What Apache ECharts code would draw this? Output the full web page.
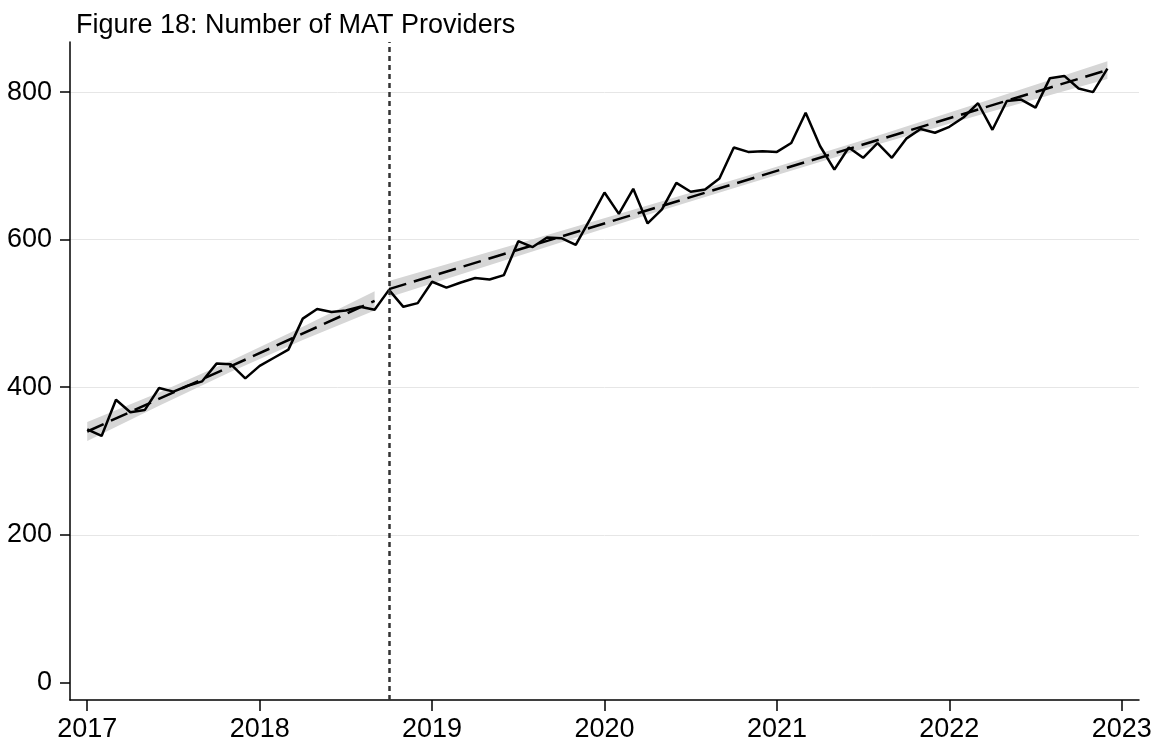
<!DOCTYPE html>
<html>
<head>
<meta charset="utf-8">
<title>Figure 18: Number of MAT Providers</title>
<script src="https://cdn.jsdelivr.net/npm/echarts@6/dist/echarts.min.js"></script>
<style>
  html, body { margin: 0; padding: 0; background: #fff; }
  #chart { width: 1159px; height: 743px; }
</style>
</head>
<body>
<div id="chart"></div>
<script>
// monthly counts, Jan 2017 .. Dec 2022
const startYear = 2017;
const providers = [
  343, 334, 383, 366, 369, 399, 394, 402, 408, 432, 431, 412,
  429, 440, 451, 493, 506, 502, 504, 509, 505, 532, 509, 514,
  543, 535, 542, 548, 546, 552, 598, 590, 603, 602, 593, 628,
  664, 635, 669, 622, 641, 677, 665, 668, 683, 725, 719, 720,
  719, 731, 772, 727, 695, 725, 711, 731, 711, 737, 750, 745,
  753, 766, 785, 749, 788, 790, 779, 819, 822, 805, 800, 832
];
const yearTicks = [2017, 2018, 2019, 2020, 2021, 2022, 2023];
const valueTicks = [0, 200, 400, 600, 800];
const gridValues = [200, 400, 600, 800];
const cutoff = 2018.75;

// fitted lines: [month index, value]
const fitPre = [[0, 340], [20, 517]];
const fitPost = [[21, 533], [71, 830]];

// confidence bands
const bandPreMonths = [0, 5, 10, 15, 20];
const bandPreLow = [327, 375, 421, 464, 504];
const bandPreHigh = [353, 393, 436, 482, 530];
const bandPostMonths = [21, 30, 40, 46, 55, 63, 71];
const bandPostLow = [522, 578, 640, 676, 729, 774, 818];
const bandPostHigh = [544, 595, 652, 687, 741, 791, 842];

const toYear = i => startYear + i / 12;
const font = '"Liberation Sans", Arial, Helvetica, sans-serif';

function bandSeries(months, low, high) {
  return {
    type: 'custom',
    silent: true,
    z: 1,
    data: months.map((m, k) => [toYear(m), low[k], high[k]]),
    encode: { x: 0, y: [1, 2] },
    renderItem: function (params, api) {
      if (params.dataIndex !== 0) return null;
      let upper = months.map((m, k) => api.coord([toYear(m), high[k]]));
      let lower = months.map((m, k) => api.coord([toYear(m), low[k]])).reverse();
      return {
        type: 'polygon',
        shape: { points: upper.concat(lower) },
        style: { fill: '#d6d6d6' }
      };
    }
  };
}

function fitSeries(points) {
  return {
    type: 'line',
    z: 3,
    silent: true,
    showSymbol: false,
    data: points.map(p => [toYear(p[0]), p[1]]),
    lineStyle: { color: '#000', width: 2.5, type: [18, 8] }
  };
}

let option = {
  animation: false,
  backgroundColor: '#fff',
  textStyle: { fontFamily: font },
  title: {
    text: 'Figure 18: Number of MAT Providers',
    left: 71,
    top: 7,
    textStyle: { fontFamily: font, fontSize: 27, fontWeight: 'normal', color: '#000' }
  },
  grid: { left: 70, right: 20, top: 42, bottom: 43 },
  xAxis: {
    type: 'value',
    min: 2016.9,
    max: 2023.1,
    axisLine: { show: true, onZero: false, lineStyle: { color: '#000', width: 1.5 } },
    axisTick: { show: true, length: 11, customValues: yearTicks, lineStyle: { color: '#000', width: 1.5 } },
    axisLabel: {
      customValues: yearTicks,
      formatter: v => String(v),
      fontSize: 27,
      color: '#000',
      fontFamily: font,
      margin: 16
    },
    splitLine: { show: false }
  },
  yAxis: [
    {
      type: 'value',
      min: -24,
      max: 868,
      axisLine: { show: true, onZero: false, lineStyle: { color: '#000', width: 1.5 } },
      axisTick: { show: true, length: 10, customValues: valueTicks, lineStyle: { color: '#000', width: 1.5 } },
      axisLabel: {
        customValues: valueTicks,
        formatter: v => String(v),
        fontSize: 27,
        color: '#000',
        fontFamily: font,
        margin: 18
      },
      splitLine: { show: false }
    },
    {
      type: 'value',
      min: -24,
      max: 868,
      position: 'left',
      axisLine: { show: false },
      axisTick: { show: false, customValues: gridValues },
      axisLabel: { show: false, customValues: gridValues },
      splitLine: { show: true, lineStyle: { color: '#e6e6e6', width: 1 } }
    }
  ],
  series: [
    bandSeries(bandPreMonths, bandPreLow, bandPreHigh),
    bandSeries(bandPostMonths, bandPostLow, bandPostHigh),
    fitSeries(fitPre),
    fitSeries(fitPost),
    {
      type: 'line',
      z: 4,
      showSymbol: false,
      data: providers.map((v, i) => [toYear(i), v]),
      lineStyle: { color: '#000', width: 2.5 },
      markLine: {
        silent: true,
        symbol: 'none',
        label: { show: false },
        lineStyle: { color: '#333', width: 2.5, type: [5, 4] },
        data: [{ xAxis: cutoff }]
      }
    }
  ]
};

let myChart = echarts.init(document.getElementById('chart'));
myChart.setOption(option);
</script>
</body>
</html>
